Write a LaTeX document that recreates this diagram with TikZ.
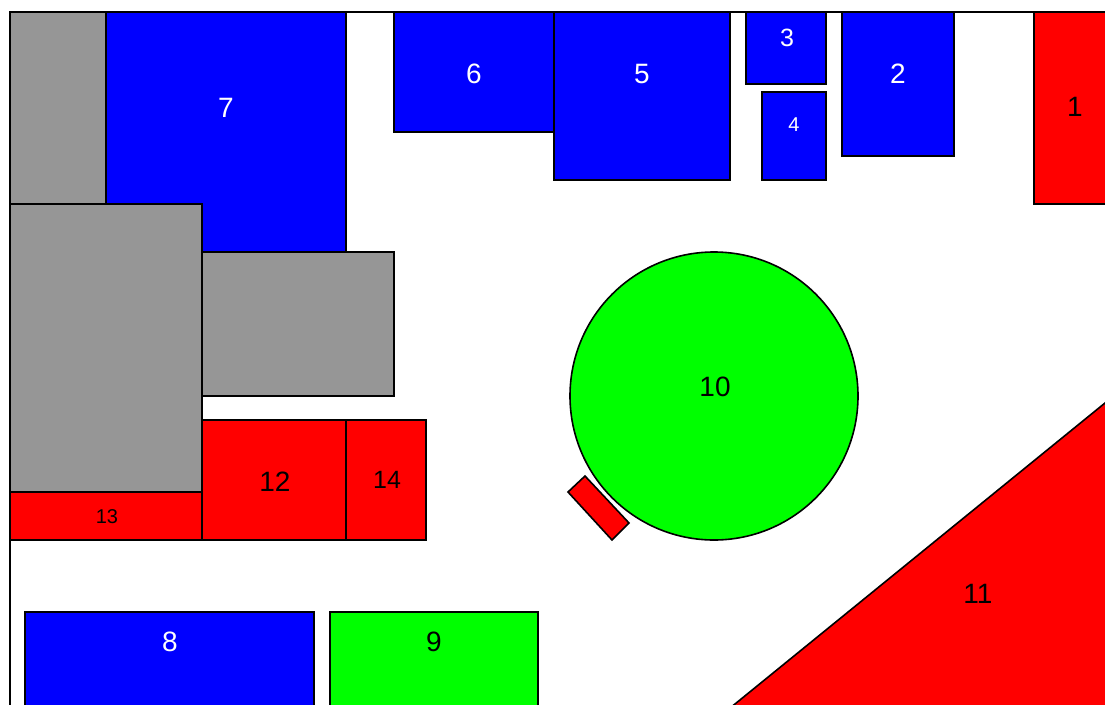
\documentclass[tikz,border=0pt]{standalone}
\usepackage{fontspec}
\setmainfont{Liberation Sans}
\definecolor{cblue}{RGB}{0,0,255}
\definecolor{cred}{RGB}{255,0,0}
\definecolor{cgreen}{RGB}{0,255,0}
\definecolor{cgray}{RGB}{150,150,150}
\begin{document}
\begin{tikzpicture}[x=1pt,y=-1pt,
  shp/.style={draw=black,line width=1.6pt,line join=miter},
  bluebox/.style={shp,fill=cblue},
  redbox/.style={shp,fill=cred},
  greenbox/.style={shp,fill=cgreen},
  graybox/.style={shp,fill=cgray},
  big/.style={inner sep=0pt,font=\fontsize{28}{30}\selectfont},
  mid/.style={inner sep=0pt,font=\fontsize{25}{27}\selectfont},
  small/.style={inner sep=0pt,font=\fontsize{20}{22}\selectfont},
  wt/.style={text=white},
  bt/.style={text=black}]
\useasboundingbox (0,0) rectangle (1105,704);
\fill[white] (0,0) rectangle (1105,704);
\begin{scope}
\clip (0,0) rectangle (1105,704);
% frame
\draw[shp] (10,12) rectangle (1120,720);
% gray and blue left
\draw[graybox] (10,12) rectangle (106,204);
\draw[bluebox] (106,12) rectangle (346,252);
\draw[graybox] (10,204) rectangle (202,492);
\draw[graybox] (202,252) rectangle (394,396);
% top blue boxes
\draw[bluebox] (394,12) rectangle (554,132);
\draw[bluebox] (554,12) rectangle (730,180);
\draw[bluebox] (746,12) rectangle (826,84);
\draw[bluebox] (762,92) rectangle (826,180);
\draw[bluebox] (842,12) rectangle (954,156);
\draw[redbox] (1034,12) rectangle (1120,204);
% red block
\draw[redbox] (202,420) rectangle (346,540);
\draw[redbox] (346,420) rectangle (426,540);
\draw[redbox] (10,492) rectangle (202,540);
% bottom boxes
\draw[bluebox] (25,612) rectangle (314,720);
\draw[greenbox] (330,612) rectangle (538,720);
% circle
\draw[greenbox] (714,396) circle (144);
% small rotated rectangle
\draw[redbox] (568,492) -- (585,476) -- (629,523) -- (612,540) -- cycle;
% triangle
\draw[redbox] (1120,390.8) -- (715.3,720) -- (1120,720) -- cycle;
\end{scope}
% labels
\node[big,wt] (l7) at (226,108) {7};
\node[big,wt] (l6) at (474,74) {6};
\node[big,wt] (l5) at (642,74) {5};
\node[mid,wt] (l3) at (787,38) {3};
\node[small,wt] (l4) at (794,125) {4};
\node[big,wt] (l2) at (898,74) {2};
\node[big,bt] (l1) at (1075,107) {1};
\node[big,bt] (l10) at (715,387) {10};
\node[big,bt] (l11) at (978,594) {11};
\node[big,bt] (l12) at (275,482) {12};
\node[mid,bt] (l14) at (387,480) {14};
\node[small,bt] (l13) at (107,517) {13};
\node[big,wt] (l8) at (170,642) {8};
\node[big,bt] (l9) at (434,642) {9};
\end{tikzpicture}
\end{document}
